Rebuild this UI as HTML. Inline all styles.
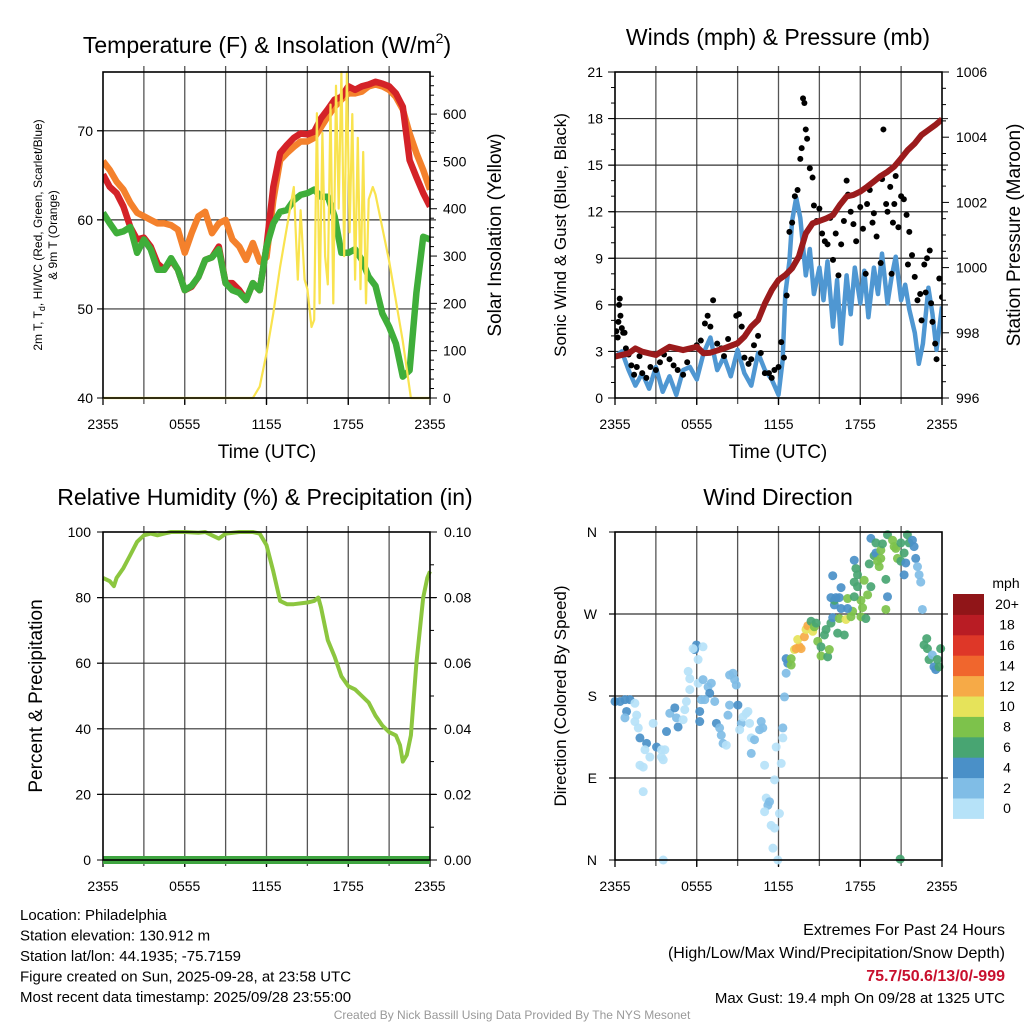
<!DOCTYPE html>
<html><head><meta charset="utf-8"><style>
html,body{margin:0;padding:0;background:#fff;}
svg{display:block;font-family:"Liberation Sans",Arial,sans-serif;}
</style></head><body>
<svg id="svg" width="1024" height="1024" viewBox="0 0 1024 1024" xmlns="http://www.w3.org/2000/svg"></svg>
<script>
// ---------- DATA ----------
const xTickLabels = ["2355","0555","1155","1755","2355"];
const hours = [0,0.5,1,1.5,2,2.5,3,3.5,4,4.5,5,5.5,6,6.5,7,7.5,8,8.5,9,9.5,10,10.5,11,11.5,12,12.5,13,13.5,14,14.5,15,15.5,16,16.5,17,17.5,18,18.5,19,19.5,20,20.5,21,21.5,22,22.5,23,23.5,24];
const tempRed = [65.1,63.7,63,61.5,59.2,57.8,58,57,55.1,54.4,55.5,54.4,52.1,52.5,53.6,55.5,55.8,57,52.9,52.9,52.1,51,52.9,52.1,57,63.7,67.5,68.4,69.2,69.7,69.6,69.9,71.4,72.4,73.5,73.8,75,74.6,75,75.2,75.5,75.3,75,74.2,72.7,66.7,64.8,63,61.5];
const tempOrange = [66.6,65.6,64.3,63.4,61.9,60.8,60.4,60,59.6,59.6,59.4,58.9,56.3,58.5,60.4,60.9,58.5,59.6,60,57.8,57,55.5,57.4,55.3,55.8,62.2,66.7,67.5,68.2,68.8,68.8,69.2,70.4,71.6,72.7,73.5,74.2,74.2,74.4,75,75.2,75,74.6,73.8,72.4,69.7,67.5,65.6,63.4];
const tempGreen = [60.8,59.6,58.5,58.7,59.2,56.3,57.8,56.7,54.4,54.4,55.7,54.4,52.1,52.6,53.6,55.5,55.8,56.7,52.9,52.1,51.8,51,52.9,52.1,57,59.6,60.9,61.1,62.2,62.8,63,63.4,62.6,62.6,60.4,56.3,56.3,56.7,55.5,53.6,52.6,49.5,48,46.1,42.4,43.1,51.8,58.1,57.8];
const solarHours = [0,11,11.5,12,12.5,13,13.5,14,14.3,14.5,14.8,15,15.3,15.5,15.7,15.9,16.1,16.3,16.5,16.7,16.9,17.1,17.3,17.5,17.7,17.9,18.1,18.3,18.5,18.7,18.9,19.1,19.3,19.5,19.8,20,21,22,22.6,24];
const solarValues = [0,0,24,94,179,277,361,446,250,397,250,230,150,165,602,200,560,300,240,620,200,660,400,689,300,689,350,600,250,550,230,520,200,420,446,430,290,120,0,0];
const windHours = [0,0.5,1,1.5,2,2.5,3,3.5,4,4.5,5,5.5,6,6.5,7,7.5,8,8.5,9,9.5,10,10.5,11,11.5,12,12.3,12.5,12.8,13,13.3,13.6,14,14.3,14.6,15,15.3,15.6,16,16.3,16.6,17,17.3,17.6,18,18.3,18.6,19,19.3,19.6,20,20.3,20.6,21,21.3,21.6,22,22.3,22.6,23,23.3,23.6,24];
const windSpeed = [2.65,3.0,1.8,0.8,1.6,0.6,2,0.4,1.4,0.2,1.8,2.0,1.2,2.9,3.9,1.8,2.65,1.4,3.1,1.6,0.8,2.9,1.8,1.2,0.2,2.4,6.7,8.8,11.4,12.9,11.6,7.9,9.6,6.7,8.4,6.3,8.8,4.6,7.6,3.5,7.9,5.4,8.4,6.1,8.2,5.2,8.4,6.7,9.3,6.1,7.8,9.1,6.3,7.3,5.7,4.2,2.2,3.5,7.1,5.4,3.1,5.9];
const gustHours = [0.1,0.2,0.25,0.3,0.35,0.4,0.5,0.6,0.7,0.8,1,1.2,1.4,1.6,1.8,2,2.3,2.6,3,3.3,3.6,4,4.3,4.6,5,5.3,5.6,6,6.3,6.6,6.8,7,7.2,7.5,7.8,8,8.3,8.6,8.9,9.1,9.3,9.5,9.8,10,10.2,10.5,10.7,11,11.3,11.5,11.7,12,12.2,12.4,12.6,12.8,13,13.2,13.4,13.6,13.7,13.8,13.9,14,14.1,14.3,14.5,14.6,14.8,15,15.2,15.4,15.6,15.8,16,16.2,16.4,16.6,16.8,17,17.1,17.3,17.5,17.7,18,18.2,18.4,18.5,18.7,18.9,19,19.2,19.5,19.6,19.7,19.9,20,20.2,20.3,20.4,20.5,20.6,20.8,21,21.2,21.4,21.5,21.6,21.8,22,22.2,22.4,22.5,22.7,22.8,22.9,23.1,23.2,23.3,23.5,23.6,23.8,24];
const gustSpeed = [4.3,3.9,4.9,6,6.4,5.3,4.5,4.2,4.2,3.2,2.8,2.1,1.5,2.0,2.7,1.6,1.3,2.0,1.8,2.3,2.8,2.5,2.1,1.8,1.5,2.3,3.2,3.4,3.7,4.8,5.3,4.6,6.3,3.5,3.2,2.7,3.8,3.4,5.3,5.4,4.6,2.6,2.2,2.5,3.4,4.0,2.9,1.6,1.6,1.3,1.8,2.0,3.6,2.6,6.6,10.7,11.3,13.0,13.4,15.4,16.1,19.3,19.0,17.3,16.7,14.8,14.2,12.4,11.4,12.2,10.6,10.1,9.9,11.6,8.9,10.6,7.9,9.9,11.4,14.0,13.1,12.0,11.2,10.1,12.3,10.9,8.0,12.5,13.4,11.3,11.9,10.4,8.7,14.1,17.3,12.5,12.0,13.6,8.0,11.3,12.5,14.3,11.0,13.0,12.8,11.8,8.6,10.7,9.2,7.8,6.3,6.7,5.0,8.6,6.8,9.0,9.5,6.1,4.9,3.5,2.5,7.7,6.5];
const pressureHours = [0,1,1.5,2,3,4,5,6,6.5,7,8,9,9.5,10,10.5,11,11.5,12,12.5,13,13.5,14,14.5,15,15.5,16,16.5,17,17.5,18,18.5,19,19.5,20,20.5,21,21.5,22,22.5,23,23.5,24];
const pressureMb = [997.27,997.37,997.52,997.42,997.32,997.57,997.47,997.57,997.37,997.39,997.52,997.68,997.88,998.19,998.39,998.9,999.31,999.62,999.77,999.98,1000.34,1001.05,1001.36,1001.43,1001.51,1001.61,1001.92,1002.18,1002.23,1002.33,1002.48,1002.64,1002.81,1002.94,1003.1,1003.35,1003.61,1003.81,1004.07,1004.22,1004.37,1004.55];
const rhHours = [0,0.5,0.8,1,1.5,2,2.5,3,3.5,4,4.5,5,6,7,7.5,8,8.5,9,10,11,11.5,12,12.5,13,13.5,14,15,15.5,15.8,16,16.5,17,17.5,18,18.5,19,19.5,20,20.5,21,21.5,21.8,22,22.3,22.6,23,23.5,23.8,24];
const rhValues = [86,85,83.5,86,89,93,97,99,99.5,99,99.5,100,100,99.8,100,99,98,99.5,100,100,99.5,96,88,79,78,78,78.5,79,80,77,67,62,56,53,52,50,48,44,41,39,38,35,30,32,38,60,80,86,88];
const precipHours = [0,24];
const precipValues = [0,0];
const dirHours = [0,0.37,0.73,1.1,1.46,0.85,0.73,1.59,1.46,1.71,1.83,2.32,2.2,2.56,2.8,3.05,3.41,3.66,3.41,3.54,1.83,2.07,2.07,3.54,3.78,4.02,4.39,4.51,4.63,5.0,5.12,5.24,5.49,5.37,5.49,5.85,5.98,5.73,6.1,6.46,6.1,6.46,6.83,6.95,7.07,6.34,6.59,7.32,6.22,6.22,7.44,7.68,7.8,7.93,8.17,8.29,8.41,8.66,8.78,8.9,8.41,9.02,9.27,9.15,9.39,9.63,9.76,9.88,10.0,10.24,10.61,10.73,10.85,10.0,10.98,11.71,11.1,11.34,11.22,10.98,12.07,11.46,11.71,11.59,11.95,11.83,12.2,12.32,12.32,12.44,12.56,12.56,12.68,12.93,12.93,13.17,13.29,13.54,13.66,13.41,13.9,14.02,14.15,14.39,14.51,14.63,14.76,14.88,15.12,15.12,15.61,15.73,15.37,15.49,15.85,16.1,15.98,16.34,16.83,16.46,16.95,17.32,17.44,17.07,16.59,16.1,16.22,16.46,17.07,18.05,18.17,18.05,18.41,17.56,15.85,16.59,15.98,17.56,17.8,18.29,18.54,18.78,17.68,17.8,17.56,18.66,19.02,19.15,19.27,19.39,19.51,19.51,19.88,20.0,19.88,18.78,19.15,19.63,20.0,20.37,20.49,20.61,20.73,20.98,21.22,20.98,21.34,21.22,21.46,21.59,21.83,21.95,22.07,22.2,22.32,22.44,22.56,22.68,22.88,22.93,23.05,23.29,23.41,23.54,23.66,23.9,23.78,20.93];
const dirDegrees = [174,174,176,176,172,163,156,159,152,145,134,128,121,113,150,124,121,121,113,110,104,102,75,0,141,161,167,156,146,154,165,174,199,207,187,231,236,232,220,234,194,198,190,183,194,176,176,174,163,152,150,145,137,128,126,159,170,205,198,192,203,170,150,143,157,161,163,150,134,132,143,152,145,117,104,88,68,64,60,53,51,38,35,13,0,124,106,134,145,179,205,221,216,214,221,231,232,234,232,242,245,253,257,262,251,256,260,240,234,224,223,231,247,253,260,280,266,249,247,265,264,267,273,276,276,285,288,288,287,285,277,267,265,289,288,299,312,305,300,307,291,300,320,313,329,325,334,337,328,322,331,340,308,289,275,353,348,347,357,351,344,342,331,328,337,348,326,313,357,348,351,344,331,322,313,305,275,236,243,232,220,225,212,209,220,232,212,1];
const dirSpeed = [5,5,5,5,1,5,3,1,1,1,5,5,1,1,1,5,1,1,1,1,1,1,1,1,5,3,5,3,5,1,1,1,1,1,1,5,5,1,1,1,1,3,3,5,3,3,3,3,5,5,5,3,3,3,1,3,3,3,3,3,3,5,3,1,1,1,1,1,1,3,3,3,3,3,1,1,1,3,3,1,1,1,1,1,1,1,1,1,3,3,3,5,5,9,9,11,13,13,13,11,13,11,13,7,11,9,7,9,7,9,7,9,7,7,7,5,5,7,7,9,11,9,9,5,5,7,5,5,9,9,9,9,7,7,5,5,5,7,7,9,9,7,7,7,5,7,7,5,9,9,9,9,7,5,9,5,7,7,7,9,9,9,9,7,7,7,5,5,7,7,5,5,5,3,3,3,3,7,7,7,7,3,5,5,7,7,7,7];
const speedLevels = ["0","2","4","6","8","10","12","14","16","18","20+"];
const speedColors = ["#b6e2f8","#80bde6","#4a90c8","#48a572","#7dc24b","#e6e35a","#f6aa47","#f0662d","#de3728","#b91c24","#901518"];

// ---------- HELPERS ----------
const NS="http://www.w3.org/2000/svg";
const svg=document.getElementById('svg');
function mk(tag,attrs,parent){const e=document.createElementNS(NS,tag);for(const k in attrs)e.setAttribute(k,attrs[k]);(parent||svg).appendChild(e);return e;}
function txt(s,x,y,size,anchor,parent,extra){const t=mk('text',Object.assign({x:x,y:y,'font-size':size,'text-anchor':anchor||'middle',fill:'#000'},extra||{}),parent);t.textContent=s;return t;}
function lin(d0,d1,r0,r1){return v=>r0+(v-d0)*(r1-r0)/(d1-d0);}
function pathD(xs,ys,fx,fy){return xs.map((h,i)=>(i?'L':'M')+fx(h).toFixed(1)+','+fy(ys[i]).toFixed(1)).join('');}

function panel(name,L,R,T,B,hLines){
  const g=mk('g',{});
  
  
  const fx=lin(0,24,L,R);
  for(let h=3;h<24;h+=3){const ln=mk('line',{x1:fx(h),x2:fx(h),y1:T-6,y2:B+6,stroke:'#555','stroke-width':1.3},g);}
  hLines.forEach(y=>{const ln=mk('line',{x1:L-6,x2:R+6,y1:y,y2:y,stroke:'#333','stroke-width':1.2},g);});
  [0,6,12,18,24].forEach((h,i)=>{mk('line',{x1:fx(h),x2:fx(h),y1:B,y2:B+7,stroke:'#000','stroke-width':1.3},g);const t=txt(xTickLabels[i],fx(h),B+31,14,'middle',g);});
  return {g,fx};
}
function frame(L,R,T,B){const r=mk('rect',{x:L,y:T,width:R-L,height:B-T,fill:'none',stroke:'#000','stroke-width':1.6});}

// ---------- PANEL 1 ----------
(function(){
  const L=103,R=430,T=72,B=398;
  const fyT=lin(40,76.6,B,T), fyS=lin(0,689,B,T);
  const p=panel('temperature-panel',L,R,T,B,[fyT(50),fyT(60),fyT(70)]);
  const g=p.g, fx=p.fx;
  [40,50,60,70].forEach(v=>{mk('line',{x1:L-6,x2:L,y1:fyT(v),y2:fyT(v),stroke:'#000'},g);const t=txt(String(v),L-10,fyT(v)+5,14,'end',g);});
  for(let v=0;v<=680;v+=20){const big=v%100==0;mk('line',{x1:R,x2:R+(big?7:4),y1:fyS(v),y2:fyS(v),stroke:'#000','stroke-width':1},g);if(big){const t=txt(String(v),R+13,fyS(v)+5,14,'start',g);}}
  const cp=mk('clipPath',{id:'c1'});mk('rect',{x:L,y:T-6,width:R-L,height:B-T+10},cp);
  const s=mk('g',{'clip-path':'url(#c1)'},g);
  let e;
  e=mk('path',{d:pathD(hours,tempOrange,fx,fyT),fill:'none',stroke:'#f4812c','stroke-width':6.5,'stroke-linejoin':'round'},s);
  e=mk('path',{d:pathD(hours,tempRed,fx,fyT),fill:'none',stroke:'#d42228','stroke-width':6.5,'stroke-linejoin':'round'},s);
  e=mk('path',{d:pathD(hours,tempGreen,fx,fyT),fill:'none',stroke:'#3fae3a','stroke-width':6.5,'stroke-linejoin':'round'},s);
  e=mk('path',{d:pathD(solarHours,solarValues,fx,fyS),fill:'none',stroke:'#f9e34f','stroke-width':2.2,'stroke-linejoin':'round'},s);
  frame(L,R,T,B);
  let t=txt('',267,53,23,'middle');
  t.innerHTML='Temperature (F) &amp; Insolation (W/m<tspan font-size="14" dy="-10">2</tspan><tspan dy="10">)</tspan>';
  t=txt('Time (UTC)',267,458,19);
  const yl=mk('text',{transform:'translate(42,235) rotate(-90)','font-size':12,'text-anchor':'middle'});
  yl.innerHTML='2m T, T<tspan font-size="9" dy="3">d</tspan><tspan dy="-3">, HI/WC (Red, Green, Scarlet/Blue)</tspan>';
  t=txt('& 9m T (Orange)',0,0,12,'middle',null,{transform:'translate(57,235) rotate(-90)'});
  t=txt('Solar Insolation (Yellow)',0,0,19,'middle',null,{transform:'translate(501,235) rotate(-90)'});
})();

// ---------- PANEL 2 ----------
(function(){
  const L=615,R=942,T=72,B=398;
  const fyW=lin(0,21,B,T), fyP=lin(996,1006,B,T);
  const p=panel('winds-panel',L,R,T,B,[3,6,9,12,15,18].map(fyW));
  const g=p.g, fx=p.fx;
  for(let v=0;v<=21;v+=1){const big=v%3==0;mk('line',{x1:L-(big?7:4),x2:L,y1:fyW(v),y2:fyW(v),stroke:'#000'},g);if(big){const t=txt(String(v),L-12,fyW(v)+5,14,'end',g);}}
  for(let v=996;v<=1006;v+=0.5){const big=v%2==0;mk('line',{x1:R,x2:R+(big?7:4),y1:fyP(v),y2:fyP(v),stroke:'#000'},g);if(big){const t=txt(String(v),R+14,fyP(v)+5,14,'start',g);}}
  const cp=mk('clipPath',{id:'c2'});mk('rect',{x:L,y:T-6,width:R-L,height:B-T+8},cp);
  const s=mk('g',{'clip-path':'url(#c2)'},g);
  let e=mk('path',{d:pathD(windHours,windSpeed,fx,fyW),fill:'none',stroke:'#4f97d2','stroke-width':4.5,'stroke-linejoin':'round'},s);
  gustHours.forEach((h,i)=>{const c=mk('circle',{cx:fx(h),cy:fyW(gustSpeed[i]),r:3,fill:'#000'},s);
    
    });
  e=mk('path',{d:pathD(pressureHours,pressureMb,fx,fyP),fill:'none',stroke:'#9b1b1c','stroke-width':6,'stroke-linejoin':'round'},s);
  frame(L,R,T,B);
  let t=txt('Winds (mph) & Pressure (mb)',778,45,23);
  t=txt('Time (UTC)',778,458,19);
  t=txt('Sonic Wind & Gust (Blue, Black)',0,0,17,'middle',null,{transform:'translate(566,235) rotate(-90)'});
  t=txt('Station Pressure (Maroon)',0,0,19,'middle',null,{transform:'translate(1020,235) rotate(-90)'});
})();

// ---------- PANEL 3 ----------
(function(){
  const L=103,R=430,T=532,B=860;
  const fyR=lin(0,100,B,T), fyP=lin(0,0.1,B,T);
  const p=panel('humidity-panel',L,R,T,B,[20,40,60,80].map(fyR));
  const g=p.g, fx=p.fx;
  [0,20,40,60,80,100].forEach(v=>{mk('line',{x1:L-6,x2:L,y1:fyR(v),y2:fyR(v),stroke:'#000'},g);const t=txt(String(v),L-12,fyR(v)+5,14,'end',g);});
  for(let k=0;k<=10;k++){const v=k/100;mk('line',{x1:R,x2:R+(k%2==0?7:4),y1:fyP(v),y2:fyP(v),stroke:'#000'},g);if(k%2==0){const t=txt(v.toFixed(2),R+14,fyP(v)+5,14,'start',g);}}
  let e=mk('path',{d:pathD(rhHours,rhValues,fx,fyR),fill:'none',stroke:'#8cc63f','stroke-width':4,'stroke-linejoin':'round'},g);
  e=mk('path',{d:pathD(precipHours,precipValues,fx,fyP),fill:'none',stroke:'#3fa540','stroke-width':8},g);
  frame(L,R,T,B);
  let t=txt('Relative Humidity (%) & Precipitation (in)',265,505,23);
  t=txt('Percent & Precipitation',0,0,19,'middle',null,{transform:'translate(42,696) rotate(-90)'});
})();

// ---------- PANEL 4 ----------
(function(){
  const L=615,R=942,T=532,B=860;
  const fyD=lin(0,360,B,T);
  const p=panel('wind-direction-panel',L,R,T,B,[90,180,270].map(fyD));
  const g=p.g, fx=p.fx;
  ['N','E','S','W','N'].forEach((s,i)=>{mk('line',{x1:L-6,x2:L,y1:fyD(i*90),y2:fyD(i*90),stroke:'#000'},g);const t=txt(s,L-18,fyD(i*90)+5,14,'end',g);});
  dirHours.forEach((h,i)=>{const bin=Math.min(10,Math.floor(dirSpeed[i]/2));
    const c=mk('circle',{cx:fx(h),cy:fyD(dirDegrees[i]),r:4.5,fill:speedColors[bin],'fill-opacity':0.92},g);
    
    });
  frame(L,R,T,B);
  let t=txt('Wind Direction',778,505,23);
  t=txt('Direction (Colored By Speed)',0,0,17,'middle',null,{transform:'translate(566,696) rotate(-90)'});
  const cb=mk('g',{});
  const top=594,bh=20.4;
  speedColors.forEach((c,i)=>{const y=top+(10-i)*bh;mk('rect',{x:953,y:y,width:31,height:bh+0.5,fill:c},cb);
    const tl=txt(speedLevels[i],1007,y+bh/2+5,14,'middle',cb);});
  t=txt('mph',1006,588,14,'middle',cb);
})();

// ---------- FOOTER ----------
(function(){
  const left=["Location: Philadelphia","Station elevation: 130.912 m","Station lat/lon: 44.1935; -75.7159","Figure created on Sun, 2025-09-28, at 23:58 UTC","Most recent data timestamp: 2025/09/28 23:55:00"];
  left.forEach((s,i)=>{const t=txt(s,20,920+i*20.5,15,'start');});
  let t=txt('Extremes For Past 24 Hours',1005,935,16,'end');
  t=txt('(High/Low/Max Wind/Precipitation/Snow Depth)',1005,958,16,'end');
  t=txt('75.7/50.6/13/0/-999',1005,981,16,'end',null,{fill:'#c8102e','font-weight':'bold'});
  t=txt('Max Gust: 19.4 mph On 09/28 at 1325 UTC',1005,1003,15,'end');
  t=txt('Created By Nick Bassill Using Data Provided By The NYS Mesonet',512,1019,12,'middle',null,{fill:'#999'});
})();
</script>
</body></html>
